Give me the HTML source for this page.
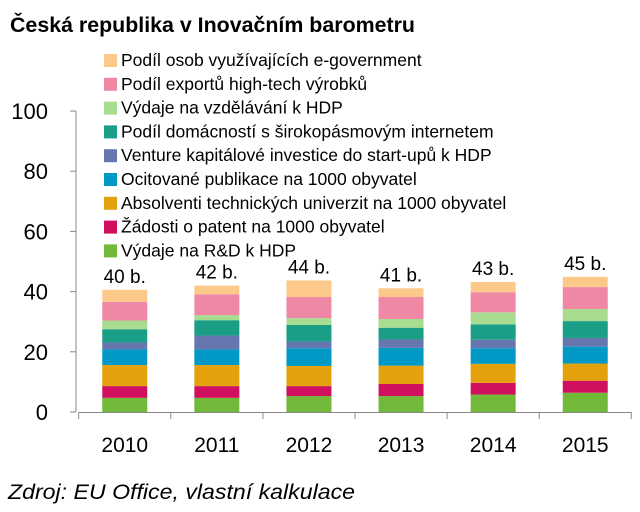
<!DOCTYPE html>
<html><head><meta charset="utf-8"><style>
body{margin:0;background:#fff;}
svg text{font-family:"Liberation Sans","DejaVu Sans",sans-serif;fill:#000;}
</style></head><body>
<svg id="chart" width="640" height="507" xmlns="http://www.w3.org/2000/svg">
<text x="10" y="32" font-size="21" font-weight="bold" textLength="405" lengthAdjust="spacingAndGlyphs">Česká republika v Inovačním barometru</text>
<g id="axes"></g><g id="bars"></g><g id="legend"></g>
<text x="8" y="499" font-size="21" font-style="italic" textLength="347" lengthAdjust="spacingAndGlyphs">Zdroj: EU Office, vlastní kalkulace</text>
</svg>
<script>
const years=["2010","2011","2012","2013","2014","2015"];
const totals=["40 b.","42 b.","44 b.","41 b.","43 b.","45 b."];
const seriesNames=["Výdaje na R&D k HDP","Žádosti o patent na 1000 obyvatel","Absolventi technických univerzit na 1000 obyvatel","Ocitované publikace na 1000 obyvatel","Venture kapitálové investice do start-upů k HDP","Podíl domácností s širokopásmovým internetem","Výdaje na vzdělávání k HDP","Podíl exportů high-tech výrobků","Podíl osob využívajících e-government"];
const sRD=[4.7,4.7,5.3,5.3,5.8,6.4];
const sPatent=[3.9,3.9,3.3,4.0,3.9,4.0];
const sAbsol=[7.0,7.0,6.7,6.1,6.3,5.7];
const sPubl=[5.2,5.2,5.9,5.9,5.2,5.6];
const sVenture=[2.3,4.6,2.2,2.8,2.8,2.9];
const sBroad=[4.4,5.1,5.5,3.9,5.1,5.6];
const sEdu=[2.9,1.7,2.3,2.9,4.0,4.0];
const sExport=[6.2,6.9,7.0,7.3,6.7,7.3];
const sEgov=[4.0,2.9,5.5,2.9,3.4,3.4];
const yTicks=[0,20,40,60,80,100];
const series=[sRD,sPatent,sAbsol,sPubl,sVenture,sBroad,sEdu,sExport,sEgov];
const colors=["#72b93a","#d0105e","#e3a20c","#0099c6","#6677b0","#1a9e86","#a8dc90","#ef88a5","#fdc98a"];
const NS="http://www.w3.org/2000/svg";
const x0=78.7,catW=92.1,barW=45,yBase=412,yTop=111;
const yS=v=>yBase-(v/100)*(yBase-yTop);
const xC=i=>x0+catW*(i+0.5);
function mk(tag,attrs,parent,txt){const e=document.createElementNS(NS,tag);for(const k in attrs)e.setAttribute(k,attrs[k]);if(txt!==undefined)e.textContent=txt;parent.appendChild(e);return e;}
const axes=document.getElementById('axes');
const ya=mk('line',{x1:76,y1:yS(100),x2:76,y2:yBase,stroke:'#888','stroke-width':1},axes);


yTicks.forEach(t=>{
 const l=mk('line',{x1:70,x2:76,y1:yS(t),y2:yS(t),stroke:'#888'},axes);
 
 
 const tx=mk('text',{x:48,y:yS(t)+8,'font-size':22,'text-anchor':'end'},axes,String(t));
 
 
});
const xa=mk('line',{x1:x0,x2:x0+catW*years.length,y1:yBase+0.5,y2:yBase+0.5,stroke:'#888'},axes);


for(let i=0;i<=years.length;i++){
 const l=mk('line',{x1:x0+catW*i,x2:x0+catW*i,y1:yBase,y2:yBase+7,stroke:'#888'},axes);
 
 
}
const bars=document.getElementById('bars');
years.forEach((y,i)=>{
 let acc=0;
 series.forEach((s,k)=>{
  const r=mk('rect',{x:xC(i)-barW/2,y:yS(acc+s[i]),width:barW,height:yS(acc)-yS(acc+s[i]),fill:colors[k]},bars);
  
  
  acc+=s[i];
 });
 const t=mk('text',{x:xC(i),y:yS(acc)-7,'font-size':19,'text-anchor':'middle'},bars,totals[i]);
 
 
 const xl=mk('text',{x:xC(i),y:452,'font-size':21,'text-anchor':'middle'},bars,y);
 
 
});
const leg=document.getElementById('legend');
for(let j=0;j<9;j++){
 const k=8-j;const cy=60+j*23.8;
 const g=mk('g',{},leg);
 
 
 mk('rect',{x:104,y:cy-6,width:13,height:13,fill:colors[k]},g);
 mk('text',{x:121,y:cy+6,'font-size':17.5},g,seriesNames[k]);
}
</script>
</body></html>
